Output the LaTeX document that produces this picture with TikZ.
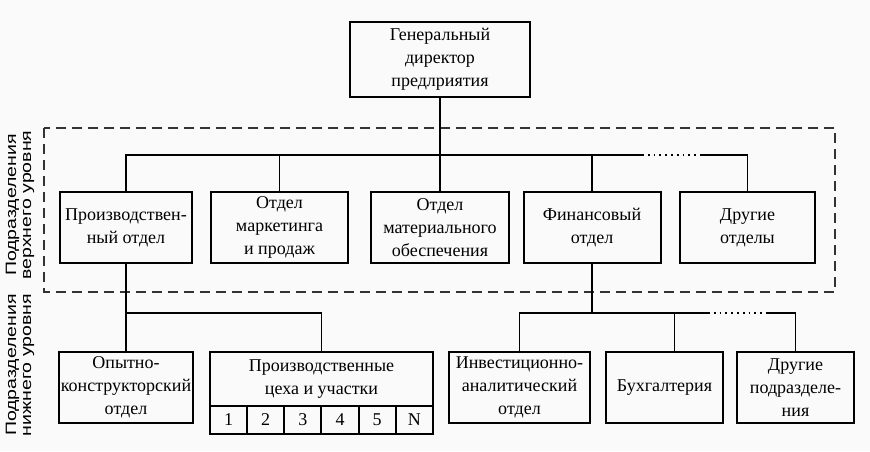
\documentclass[tikz,border=0pt]{standalone}
\usepackage{fontspec}
\setmainfont{Liberation Serif}
\newfontfamily\sidefont{Liberation Sans}
\usetikzlibrary{positioning}
\tikzset{
  box/.style={draw, line width=1pt, align=center, inner sep=1pt, outer sep=0pt,
    font=\fontsize{9}{11.5}\selectfont},
  cell/.style={box, minimum width=18.58pt, minimum height=14pt},
  link/.style={line width=0.9pt},
  dots/.style={line width=0.9pt, dotted},
  level/.style={rotate=90, xscale=1.3, transform shape, align=center,
    font=\sidefont\fontsize{7.5}{7.5}\selectfont}
}

\begin{document}
\begin{tikzpicture}[x=0.5pt, y=-0.5pt]
			%%%%% FRAME %%%%%
			\fill[black!2] (0, 0) rectangle (870, 451);
			\useasboundingbox (0, 0) rectangle (870, 451);
			
			%%%%% TOP %%%%%
			\node[box, minimum width=90pt, minimum height=37.5pt] (gen) at (440, 59.5) {Генеральный\\директор\\предлриятия};
			
			%%%%% UPPER LEVEL %%%%%
			\node[box, minimum width=66pt, minimum height=35.5pt] (prodotd) at (126, 227.5) {Производствен-\\ный отдел};
			\node[box, minimum width=68.5pt, minimum height=35.5pt] (market) at (279.5, 227.5) {Отдел\\маркетинга\\и продаж};
			\node[box, minimum width=69pt, minimum height=35.5pt] (mater) at (440, 227.5) {Отдел\\материального\\обеспечения};
			\node[box, minimum width=68.5pt, minimum height=35.5pt] (fin) at (592, 227.5) {Финансовый\\отдел};
			\node[box, minimum width=67.5pt, minimum height=35.5pt] (other) at (747.5, 227.5) {Другие\\отделы};
			
			%%%%% LOWER LEVEL %%%%%
			\node[box, minimum width=67pt, minimum height=35.5pt] (okb) at (126, 387.5) {Опытно-\\конструкторский\\отдел};
			\node[box, minimum width=111.5pt, minimum height=27pt] (ceh) at (321.5, 379) {Производственные\\цеха и участки};
			\node[cell, anchor=north west] (c1) at (ceh.south west) {1};
			\node[cell, right=0pt of c1] (c2) {2};
			\node[cell, right=0pt of c2] (c3) {3};
			\node[cell, right=0pt of c3] (c4) {4};
			\node[cell, right=0pt of c4] (c5) {5};
			\node[cell, right=0pt of c5] (cN) {N};
			
			\node[box, minimum width=70.5pt, minimum height=35.5pt] (invest) at (519.5, 387.5) {Инвестиционно-\\аналитический\\отдел};
			\node[box, minimum width=58.5pt, minimum height=35.5pt] (buh) at (664.5, 387.5) {Бухгалтерия};
			\node[box, minimum width=58.5pt, minimum height=35.5pt] (drpod) at (795.5, 387.5) {Другие\\подразделе-\\ния};
			
			%%%%% SIDE LABELS %%%%%
			\node[level] (upperlab) at (20, 205) {Подразделения\\верхнего уровня};
			\node[level] (lowerlab) at (20, 365) {Подразделения\\нижнего уровня};
			
			\draw[line width=0.8pt, dash pattern=on 5pt off 3pt, black!80] (44, 128) rectangle (835, 292);
			
			%%%%% CONNECTORS %%%%%
			\coordinate (topbar) at (0, 155);
			\coordinate (lowbar) at (0, 313);
			\coordinate (dotA) at (642, 155);
			\coordinate (dotB) at (702, 155);
			\coordinate (dotC) at (708, 313);
			\coordinate (dotD) at (768, 313);
			
			\draw[link] (gen.south) -- (mater.north);
			\draw[link] (prodotd.north) |- (dotA);
			\draw[dots] (dotA) -- (dotB);
			\draw[link] (dotB) -| (other.north);
			\draw[link] (market.north) -- (market.north |- topbar);
			\draw[link] (fin.north) -- (fin.north |- topbar);
			
			\draw[link] (prodotd.south) -- (okb.north);
			\draw[link] (okb.north |- lowbar) -| (ceh.north);
			
			\draw[link] (fin.south) -- (fin.south |- lowbar);
			\draw[link] (invest.north) |- (dotC);
			\draw[dots] (dotC) -- (dotD);
			\draw[link] (dotD) -| (drpod.north);
			\draw[link] ([xshift=5pt]buh.north) -- ([xshift=5pt]buh.north |- lowbar);
			
			%%%%% END %%%%%
\end{tikzpicture}
\end{document}
